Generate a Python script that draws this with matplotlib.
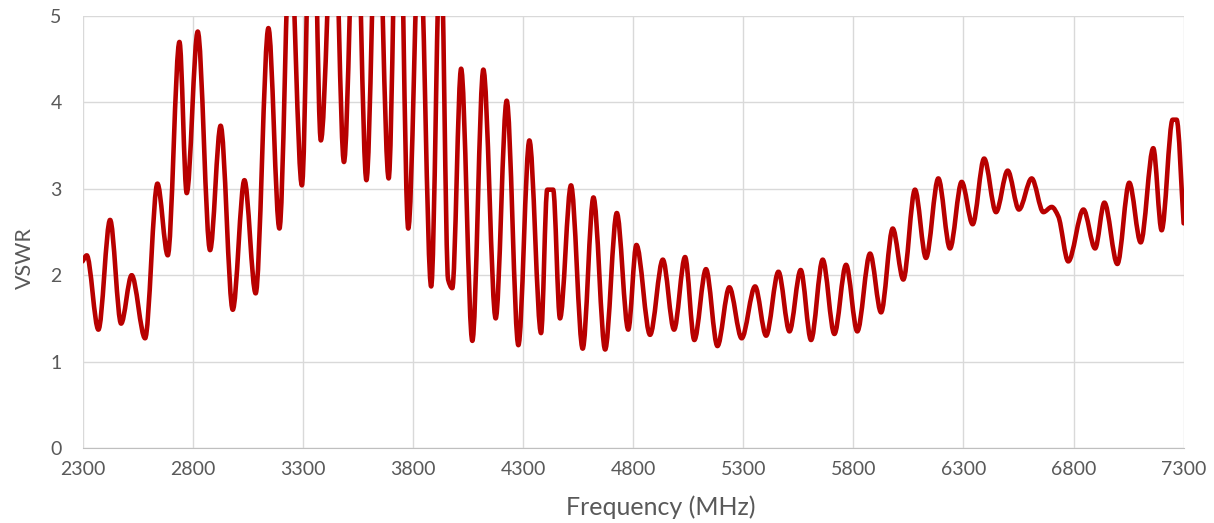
import numpy as np
import matplotlib
matplotlib.use('Agg')
from matplotlib import pyplot as plt
from matplotlib.path import Path
from matplotlib.patches import PathPatch

# measured VSWR sweep, turning points of the trace (MHz, VSWR)
freq_mhz = [2300, 2319, 2372, 2425, 2475, 2523, 2584, 2640, 2687, 2740,
            2773, 2823, 2879, 2927, 2982, 3035, 3086, 3144, 3194, 3242,
            3296, 3342, 3382, 3441, 3487, 3540, 3589, 3638, 3690, 3734,
            3779, 3830, 3883, 3926, 3960, 3979, 4019, 4070, 4120, 4176,
            4226, 4279, 4329, 4382, 4410, 4437, 4468, 4518, 4571, 4620,
            4673, 4726, 4778, 4815, 4877, 4935, 4986, 5036, 5078, 5131,
            5183, 5237, 5293, 5354, 5404, 5460, 5510, 5561, 5608, 5661,
            5714, 5767, 5818, 5876, 5926, 5979, 6027, 6080, 6130, 6186,
            6239, 6292, 6342, 6394, 6448, 6501, 6552, 6610, 6663, 6701,
            6731, 6776, 6845, 6898, 6940, 6999, 7053, 7105, 7162, 7200,
            7250, 7268, 7300]
vswr = [2.16, 2.23, 1.37, 2.64, 1.44, 2.00, 1.27, 3.06, 2.23, 4.70,
        2.95, 4.82, 2.29, 3.73, 1.60, 3.10, 1.79, 4.86, 2.54, 5.90,
        3.04, 7.40, 3.56, 6.50, 3.31, 6.80, 3.10, 6.70, 3.12, 7.40,
        2.54, 6.00, 1.87, 6.00, 1.95, 1.85, 4.39, 1.24, 4.38, 1.50,
        4.02, 1.19, 3.56, 1.33, 2.99, 2.99, 1.50, 3.04, 1.15, 2.90,
        1.14, 2.72, 1.37, 2.35, 1.31, 2.18, 1.37, 2.21, 1.25, 2.07,
        1.18, 1.86, 1.27, 1.87, 1.30, 2.04, 1.35, 2.06, 1.25, 2.18,
        1.32, 2.12, 1.35, 2.25, 1.57, 2.54, 1.95, 2.99, 2.20, 3.12,
        2.31, 3.08, 2.59, 3.35, 2.73, 3.21, 2.76, 3.12, 2.73, 2.79,
        2.68, 2.16, 2.76, 2.31, 2.84, 2.13, 3.07, 2.38, 3.47, 2.52,
        3.80, 3.80, 2.60]

x_ticks = [2300, 2800, 3300, 3800, 4300, 4800, 5300, 5800, 6300, 6800, 7300]
y_ticks = [0, 1, 2, 3, 4, 5]

LINE_COLOR = '#B80000'
TEXT_COLOR = '#595959'
GRID_COLOR = '#D9D9D9'


def smooth_path(x, y):
    # monotone cubic (Fritsch-Carlson) slopes, emitted as bezier segments
    x = np.asarray(x, float)
    y = np.asarray(y, float)
    h = np.diff(x)
    delta = np.diff(y) / h
    d = np.zeros_like(y)
    d[0] = delta[0]
    d[-1] = delta[-1]
    for k in range(1, len(x) - 1):
        if delta[k - 1] * delta[k] <= 0:
            d[k] = 0.0
        else:
            w1 = 2 * h[k] + h[k - 1]
            w2 = h[k] + 2 * h[k - 1]
            d[k] = (w1 + w2) / (w1 / delta[k - 1] + w2 / delta[k])
    verts = [(x[0], y[0])]
    codes = [Path.MOVETO]
    for k in range(len(x) - 1):
        verts += [(x[k] + h[k] / 3, y[k] + d[k] * h[k] / 3),
                  (x[k + 1] - h[k] / 3, y[k + 1] - d[k + 1] * h[k] / 3),
                  (x[k + 1], y[k + 1])]
        codes += [Path.CURVE4] * 3
    return Path(verts, codes)


plt.rcParams['font.family'] = ['Lato', 'DejaVu Sans']

fig = plt.figure(figsize=(12.14, 5.23), dpi=100)
ax = fig.add_axes([0.068, 0.1434, 0.907, 0.826])

trace = PathPatch(smooth_path(freq_mhz, vswr), facecolor='none',
                  edgecolor=LINE_COLOR, lw=3.3, capstyle='round',
                  joinstyle='round', zorder=3)
ax.add_patch(trace)

ax.set_xlim(2300, 7300)
ax.set_ylim(0, 5)
ax.set_xticks(x_ticks)
ax.set_yticks(y_ticks)
ax.grid(True, color=GRID_COLOR, lw=1)
ax.set_axisbelow(True)
for side in ['top', 'right', 'left']:
    ax.spines[side].set_visible(False)
ax.spines['bottom'].set_color('#BFBFBF')
ax.tick_params(axis='both', length=0, labelcolor=TEXT_COLOR, labelsize=14)
ax.tick_params(axis='x', pad=9)
ax.tick_params(axis='y', pad=15)

ax.set_xlabel('Frequency (MHz)', color=TEXT_COLOR, fontsize=18)
ax.set_ylabel('VSWR', color=TEXT_COLOR, fontsize=15.5)
ax.xaxis.set_label_coords(0.525, -0.11)
ax.yaxis.set_label_coords(-0.043, 0.44)

fig.savefig('out.png', dpi=100)
